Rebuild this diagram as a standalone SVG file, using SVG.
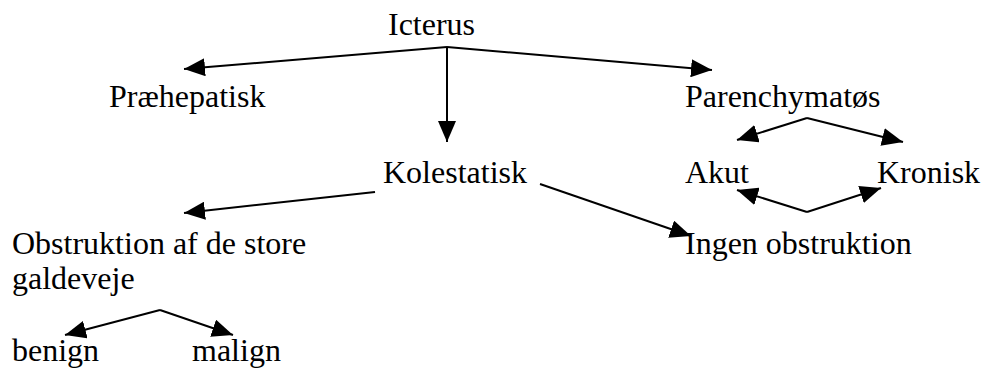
<svg xmlns="http://www.w3.org/2000/svg" width="983" height="374" viewBox="0 0 983 374">
<style>
text{font-family:"Liberation Serif","Times New Roman",serif;font-size:32px;fill:#000}
.c{stroke:#000;stroke-width:2;fill:none;marker-end:url(#ah)}
</style>
<defs>
<marker id="ah" markerUnits="userSpaceOnUse" markerWidth="22" markerHeight="18" refX="21" refY="9" orient="auto">
<path d="M0,0 L21,9 L0,18 z" fill="#000"/>
</marker>
</defs>
<rect width="983" height="374" fill="#fff"/>
<g id="connectors">
<path class="c" d="M447,47 L184,69"/>
<path class="c" d="M447,47 L712,70"/>
<path class="c" d="M447,47 L447,142"/>
<path class="c" d="M807,118 L737,140"/>
<path class="c" d="M807,118 L903,142"/>
<path class="c" d="M807,212 L737,190"/>
<path class="c" d="M807,212 L881,188"/>
<path class="c" d="M375,192 L184,213"/>
<path class="c" d="M540,184 L691,236"/>
<path class="c" d="M160,310 L65,335"/>
<path class="c" d="M160,310 L233,335"/>
</g>
<g id="icterus"><text x="388" y="35">Icterus</text></g>
<g id="praehepatisk"><text x="109" y="107">Præhepatisk</text></g>
<g id="parenchymatos"><text x="685" y="107">Parenchymatøs</text></g>
<g id="kolestatisk"><text x="383" y="183">Kolestatisk</text></g>
<g id="akut"><text x="685" y="183">Akut</text></g>
<g id="kronisk"><text x="877" y="183">Kronisk</text></g>
<g id="obstruktion"><text x="12" y="254">Obstruktion af de store</text><text x="12" y="289">galdeveje</text></g>
<g id="ingen"><text x="685" y="254">Ingen obstruktion</text></g>
<g id="benign"><text x="12" y="361">benign</text></g>
<g id="malign"><text x="192" y="361">malign</text></g>
</svg>
